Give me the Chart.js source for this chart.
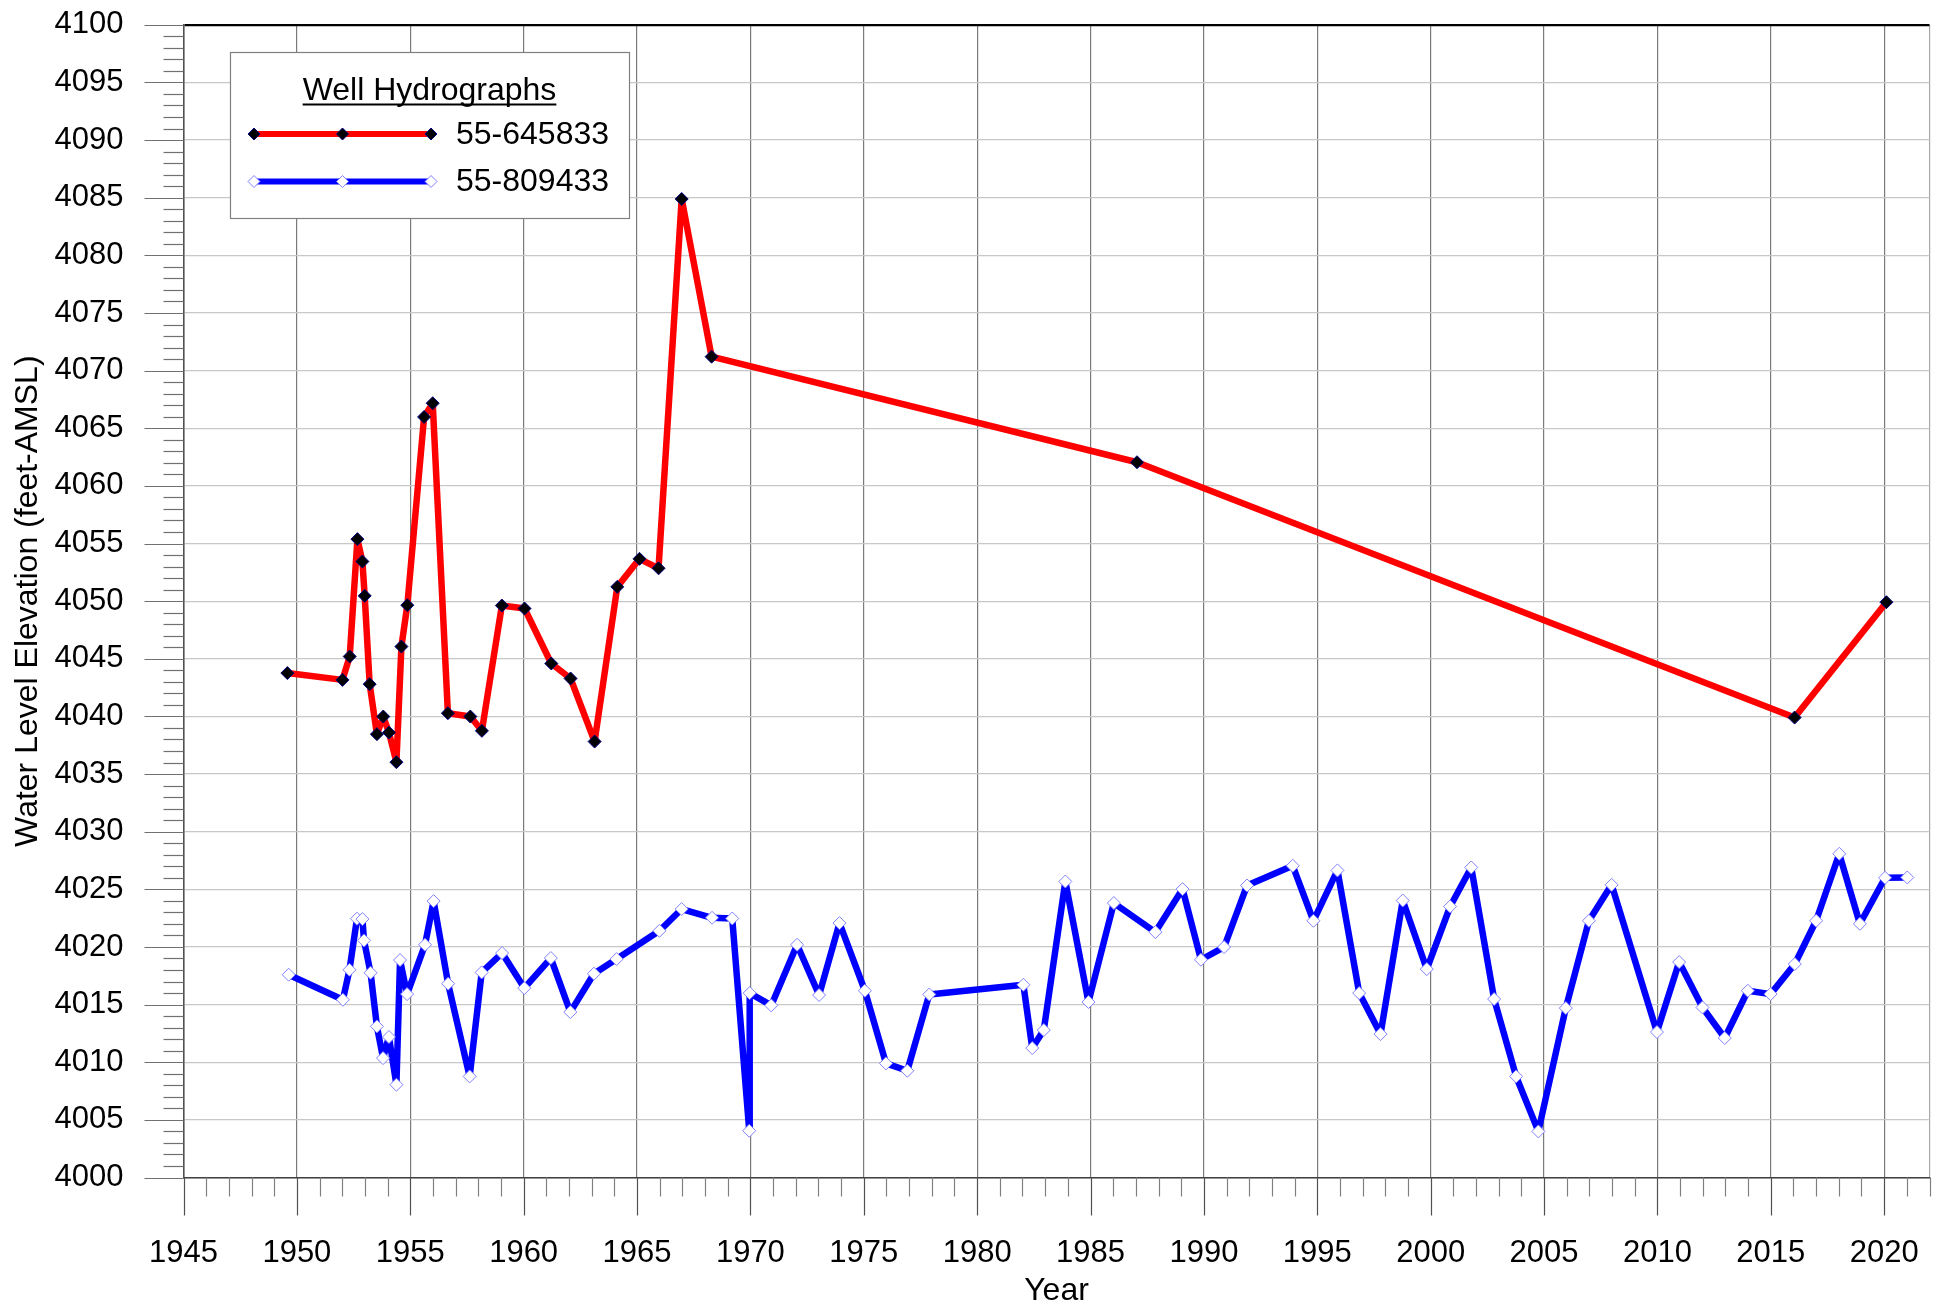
<!DOCTYPE html>
<html>
<head>
<meta charset="utf-8">
<script src="https://cdn.jsdelivr.net/npm/chart.js@4.4.1/dist/chart.umd.min.js"></script>
<style>
html,body{margin:0;padding:0;background:#fff;}
canvas{display:block;}
</style>
</head>
<body>
<canvas id="c" width="1946" height="1305"></canvas>
<script>
// ---- text ----
const legendTitle = 'Well Hydrographs';
const seriesNames = ['55-645833', '55-809433'];
const xTitle = 'Year';
const yTitle = 'Water Level Elevation (feet-AMSL)';

// ---- axis ticks ----
const yearTicks = [1945, 1950, 1955, 1960, 1965, 1970, 1975, 1980, 1985, 1990, 1995, 2000, 2005, 2010, 2015, 2020, 2022];
const yMin = 4000, yMax = 4100, yStep = 5;

// ---- series 55-645833 ----
const redYears = [1949.58, 1952.01, 1952.33, 1952.67, 1952.89, 1952.99, 1953.21, 1953.53, 1953.81, 1954.06,
  1954.39, 1954.61, 1954.87, 1955.61, 1955.99, 1956.66, 1957.65, 1958.16, 1959.04, 1960.04,
  1961.22, 1962.07, 1963.13, 1964.13, 1965.11, 1965.95, 1966.97, 1968.29, 1987.05, 2016.05, 2020.10];
const redLevels = [4043.76, 4043.17, 4045.20, 4055.38, 4053.44, 4050.46, 4042.80, 4038.46, 4039.99, 4038.60,
  4036.03, 4046.06, 4049.65, 4065.98, 4067.17, 4040.28, 4039.99, 4038.75, 4049.62, 4049.36,
  4044.59, 4043.29, 4037.82, 4051.24, 4053.67, 4052.85, 4084.89, 4071.21, 4062.05, 4039.90, 4049.91];

// ---- series 55-809433 ----
const blueYears = [1949.64, 1952.03, 1952.32, 1952.65, 1952.89, 1952.96, 1953.25, 1953.53, 1953.80, 1954.06,
  1954.39, 1954.55, 1954.86, 1955.65, 1956.03, 1956.67, 1957.62, 1958.15, 1959.05, 1960.03,
  1961.20, 1962.06, 1963.10, 1964.10, 1965.99, 1966.97, 1968.31, 1969.20, 1969.95, 1969.97,
  1970.92, 1972.06, 1973.03, 1973.93, 1975.05, 1975.98, 1976.92, 1977.89, 1982.04, 1982.43,
  1982.94, 1983.89, 1984.91, 1986.03, 1987.86, 1989.06, 1989.87, 1990.89, 1991.90, 1993.92,
  1994.83, 1995.89, 1996.85, 1997.79, 1998.77, 1999.83, 2000.86, 2001.79, 2002.80, 2003.77,
  2004.75, 2005.96, 2006.98, 2007.98, 2009.98, 2010.96, 2011.99, 2012.97, 2013.99, 2014.99,
  2016.06, 2017.00, 2018.02, 2018.93, 2020.04, 2021.02];
const blueLevels = [4017.59, 4015.42, 4018.02, 4022.45, 4022.42, 4020.57, 4017.76, 4013.11, 4010.36, 4012.19,
  4008.05, 4018.86, 4015.91, 4020.19, 4023.98, 4016.81, 4008.77, 4017.79, 4019.47, 4016.43,
  4019.04, 4014.35, 4017.68, 4018.95, 4021.40, 4023.29, 4022.53, 4022.47, 4004.06, 4016.00,
  4014.93, 4020.19, 4015.83, 4022.07, 4016.20, 4009.90, 4009.26, 4015.88, 4016.72, 4011.23,
  4012.79, 4025.68, 4015.22, 4023.81, 4021.29, 4025.02, 4018.89, 4019.99, 4025.33, 4027.04,
  4022.27, 4026.64, 4016.00, 4012.44, 4024.03, 4018.08, 4023.51, 4026.90, 4015.48, 4008.77,
  4004.00, 4014.70, 4022.27, 4025.39, 4012.62, 4018.69, 4014.75, 4012.10, 4016.20, 4015.91,
  4018.52, 4022.27, 4028.08, 4022.01, 4026.00, 4026.03];

const FONT = "'Liberation Sans', Arial, sans-serif";
const redStyle = {line: '#ff0000', fill: '#000000', stroke: '#000080'};
const blueStyle = {line: '#0000ff', fill: '#ffffff', stroke: '#8080ff'};

function diamond(ctx, x, y, r, fill, stroke) {
  ctx.beginPath();
  ctx.moveTo(x, y - r); ctx.lineTo(x + r, y); ctx.lineTo(x, y + r); ctx.lineTo(x - r, y);
  ctx.closePath();
  ctx.fillStyle = fill; ctx.fill();
  ctx.lineWidth = 1; ctx.strokeStyle = stroke; ctx.stroke();
}

const tickPlugin = {
  id: 'tickMarks',
  afterDraw(chart) {
    const ctx = chart.ctx, xs = chart.scales.x, ys = chart.scales.y, a = chart.chartArea;
    ctx.save();
    ctx.lineWidth = 1.2;
    for (let yr = Math.ceil(xs.min); yr <= xs.max; yr++) {
      const px = Math.round(xs.getPixelForValue(yr)) + 0.5;
      const major = yr % 5 === 0;
      ctx.strokeStyle = major ? '#505050' : '#808080';
      ctx.beginPath(); ctx.moveTo(px, a.bottom); ctx.lineTo(px, a.bottom + (major ? 38 : 19)); ctx.stroke();
    }
    for (let v = yMin; v <= yMax; v++) {
      const py = Math.round(ys.getPixelForValue(v)) + 0.5;
      const major = v % 5 === 0;
      ctx.strokeStyle = '#707070';
      ctx.beginPath(); ctx.moveTo(a.left, py); ctx.lineTo(a.left - (major ? 39 : 20), py); ctx.stroke();
    }
    ctx.restore();
  }
};

const legendPlugin = {
  id: 'customLegend',
  afterDraw(chart) {
    const ctx = chart.ctx;
    ctx.save();
    const bx = 230, by = 52, bw = 399, bh = 166;
    ctx.fillStyle = '#ffffff'; ctx.fillRect(bx, by, bw, bh);
    ctx.strokeStyle = '#808080'; ctx.lineWidth = 1.2; ctx.strokeRect(bx + 0.5, by + 0.5, bw, bh);
    ctx.fillStyle = '#000';
    ctx.font = '32px ' + FONT;
    ctx.textAlign = 'center'; ctx.textBaseline = 'alphabetic';
    const cx = bx + bw / 2;
    ctx.fillText(legendTitle, cx, 100);
    const tw = ctx.measureText(legendTitle).width;
    ctx.lineWidth = 2; ctx.strokeStyle = '#000';
    ctx.beginPath(); ctx.moveTo(cx - tw / 2, 104.5); ctx.lineTo(cx + tw / 2, 104.5); ctx.stroke();
    const rows = [[134, redStyle, seriesNames[0]], [181.5, blueStyle, seriesNames[1]]];
    ctx.font = '32px ' + FONT;
    ctx.textAlign = 'left'; ctx.textBaseline = 'middle';
    for (const [y, st, name] of rows) {
      ctx.strokeStyle = st.line; ctx.lineWidth = 6;
      ctx.beginPath(); ctx.moveTo(254, y); ctx.lineTo(431, y); ctx.stroke();
      for (const x of [254, 342.5, 431]) diamond(ctx, x, y, 6, st.fill, st.stroke);
      ctx.fillStyle = '#000';
      ctx.fillText(name, 456, y + 1);
    }
    ctx.restore();
  }
};

const redData = redYears.map((x, i) => ({x, y: redLevels[i]}));
const blueData = blueYears.map((x, i) => ({x, y: blueLevels[i]}));

new Chart(document.getElementById('c'), {
  type: 'line',
  data: {
    datasets: [
      {label: seriesNames[0], data: redData, borderColor: redStyle.line, borderWidth: 6.5,
       borderJoinStyle: 'round', borderCapStyle: 'round',
       pointStyle: 'rectRot', pointRadius: 6.5, pointBackgroundColor: redStyle.fill,
       pointBorderColor: redStyle.stroke, pointBorderWidth: 1, tension: 0, fill: false},
      {label: seriesNames[1], data: blueData, borderColor: blueStyle.line, borderWidth: 6.5,
       borderJoinStyle: 'round', borderCapStyle: 'round',
       pointStyle: 'rectRot', pointRadius: 6.5, pointBackgroundColor: blueStyle.fill,
       pointBorderColor: blueStyle.stroke, pointBorderWidth: 1, tension: 0, fill: false}
    ]
  },
  options: {
    responsive: false,
    animation: false,
    events: [],
    layout: {padding: {left: 0, right: 16.5, top: 24.8, bottom: 0}},
    plugins: {legend: {display: false}, tooltip: {enabled: false}},
    scales: {
      x: {
        type: 'linear', min: 1945, max: 2022,
        afterBuildTicks: s => { s.ticks = yearTicks.map(v => ({value: v})); },
        afterFit: s => { s.height = 127.5; s.paddingLeft = 0; s.paddingRight = 0; },
        ticks: {autoSkip: false, maxRotation: 0, padding: 57, color: '#000',
                font: {family: FONT, size: 31},
                callback: v => (v % 5 === 0 ? String(v) : '')},
        grid: {drawTicks: false, lineWidth: 1.2,
               color: c => (c.tick && c.tick.value === 2022 ? '#a8a8a8' : (c.tick && c.tick.value === 1945 ? '#505050' : '#7a7a7a'))},
        border: {display: true, color: '#404040', width: 1.5},
        title: {display: true, text: xTitle, color: '#000', font: {family: FONT, size: 32},
                padding: {top: 0, bottom: -5}}
      },
      y: {
        min: yMin, max: yMax,
        afterFit: s => { s.width = 183.5; s.paddingTop = 0; s.paddingBottom = 0; },
        ticks: {stepSize: yStep, padding: 60, color: '#000', font: {family: FONT, size: 31},
                callback: v => String(v)},
        grid: {drawTicks: false,
               lineWidth: c => (c.tick && c.tick.value === yMax ? 2.2 : 1.2),
               color: c => (c.tick && c.tick.value === yMax ? '#000000' : '#c8c8c8')},
        border: {display: true, color: '#505050', width: 1.5},
        title: {display: true, text: yTitle, color: '#000', font: {family: FONT, size: 32},
                padding: {top: 9, bottom: 0}}
      }
    }
  },
  plugins: [tickPlugin, legendPlugin]
});
</script>
</body>
</html>
